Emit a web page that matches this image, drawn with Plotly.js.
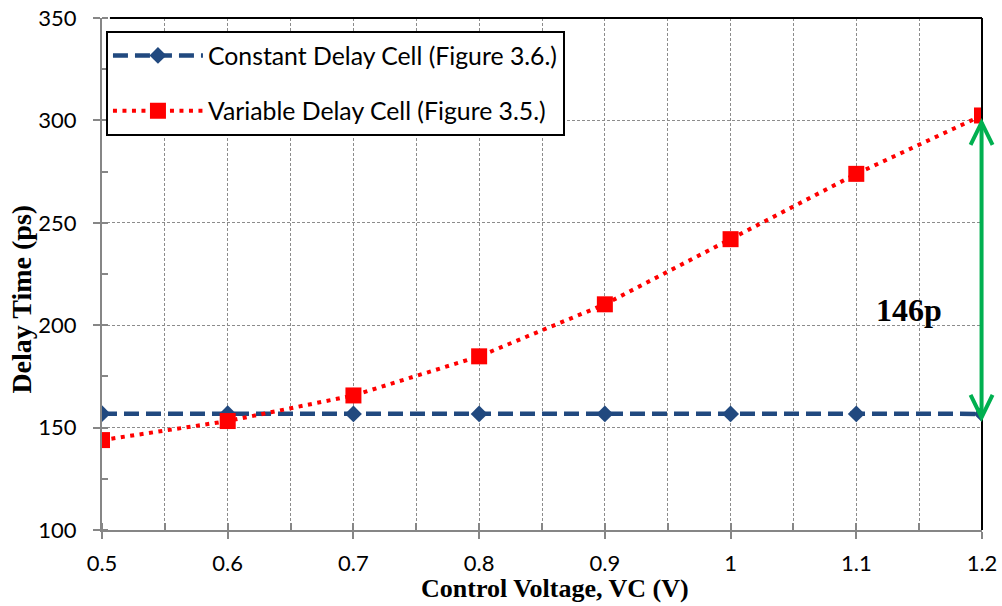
<!DOCTYPE html>
<html>
<head>
<meta charset="utf-8">
<script src="https://cdn.plot.ly/plotly-3.0.1.min.js"></script>
<style>html,body{margin:0;padding:0;background:#fff;}#chart{width:1002px;height:606px;}</style>
</head>
<body>
<div id="chart"></div>
<script>
const voltage = [0.5, 0.6, 0.7, 0.8, 0.9, 1.0, 1.1, 1.2];
const constantDelay = [156.8, 156.8, 156.7, 156.7, 156.7, 156.7, 156.7, 156.7];
const variableDelay = [143.9, 153.2, 165.7, 184.8, 210.2, 242.0, 273.9, 302.4];
const xTickVals = [0.5, 0.6, 0.7, 0.8, 0.9, 1.0, 1.1, 1.2];
const xTickText = ["0.5", "0.6", "0.7", "0.8", "0.9", "1", "1.1", "1.2"];
const yTickVals = [100, 150, 200, 250, 300, 350];
const seriesNames = ["Constant Delay Cell (Figure 3.6.)", "Variable Delay Cell (Figure 3.5.)"];
const xTitle = "Control Voltage, VC (V)";
const yTitle = "Delay Time (ps)";
const arrowLow = 155, arrowHigh = 299;
const diffLabel = "146p";

const axisGray = '#868686';
const gridGray = '#8c8c8c';
const sansFont = 'Lato, "Open Sans", sans-serif';
const serifFont = '"Liberation Serif", "Times New Roman", serif';

const traces = [
  {
    x: voltage, y: constantDelay, name: seriesNames[0], type: 'scatter', mode: 'lines+markers',
    legendgroup: 'a',
    line: {color: '#21497f', width: 4.5, dash: '15px,7px'},
    marker: {symbol: 'diamond', size: 13, color: '#21497f'}
  },
  {
    x: voltage, y: variableDelay, name: seriesNames[1], type: 'scatter', mode: 'lines+markers',
    legendgroup: 'b',
    line: {color: '#ff0000', width: 4, dash: '4px,5.5px'},
    marker: {symbol: 'square', size: 16, color: '#ff0000'}
  }
];

const chevW = 0.0125, chevH = 11;
const ax = 0.9995;
const shapes = [
  {type: 'line', xref: 'paper', yref: 'paper', x0: 0.009, x1: 1, y0: 1, y1: 1, line: {color: '#000', width: 2}},
  {type: 'line', xref: 'paper', yref: 'paper', x0: 1, x1: 1, y0: 0, y1: 1, line: {color: '#000', width: 2}},
  {type: 'line', xref: 'paper', yref: 'y', x0: ax, x1: ax, y0: arrowLow, y1: arrowHigh, line: {color: '#00b050', width: 4}, layer: 'above'},
  {type: 'path', xref: 'paper', yref: 'y', layer: 'above',
   path: 'M' + (ax - chevW) + ',' + (arrowHigh - chevH) + ' L' + ax + ',' + arrowHigh + ' L' + (ax + chevW) + ',' + (arrowHigh - chevH),
   line: {color: '#00b050', width: 4}},
  {type: 'path', xref: 'paper', yref: 'y', layer: 'above',
   path: 'M' + (ax - chevW) + ',' + (arrowLow + chevH) + ' L' + ax + ',' + arrowLow + ' L' + (ax + chevW) + ',' + (arrowLow + chevH),
   line: {color: '#00b050', width: 4}}
];

const layout = {
  width: 1002, height: 606,
  margin: {l: 102, r: 20, t: 18, b: 76},
  paper_bgcolor: '#fff', plot_bgcolor: '#fff',
  showlegend: true,
  legend: {
    x: 0.0045, y: 0.975, xanchor: 'left', yanchor: 'top',
    bgcolor: '#fff', bordercolor: '#000', borderwidth: 2,
    font: {family: sansFont, size: 24.8, color: '#000'},
    tracegroupgap: 20, itemwidth: 90,
    traceorder: 'grouped'
  },
  xaxis: {
    range: [0.5, 1.2], tickvals: xTickVals, ticktext: xTickText,
    showline: true, linecolor: axisGray, linewidth: 2,
    ticks: 'outside', ticklen: 7, tickwidth: 2, tickcolor: axisGray,
    showgrid: true, gridcolor: gridGray, gridwidth: 1, griddash: '3px,2px',
    minor: {dtick: 0.05, tick0: 0.5, ticks: 'inside', ticklen: 7, tickwidth: 2, tickcolor: axisGray,
            showgrid: true, gridcolor: gridGray, gridwidth: 1, griddash: '3px,2px'},
    zeroline: false,
    tickfont: {family: sansFont, size: 22, color: '#000'},
    ticklabelstandoff: 6
  },
  yaxis: {
    range: [100, 350], tickvals: yTickVals,
    showline: true, linecolor: axisGray, linewidth: 2,
    ticks: 'outside', ticklen: 7, tickwidth: 2, tickcolor: axisGray,
    showgrid: true, gridcolor: gridGray, gridwidth: 1, griddash: '3px,2px',
    minor: {dtick: 25, tick0: 100, ticks: 'inside', ticklen: 6, tickwidth: 2, tickcolor: axisGray, showgrid: false},
    zeroline: false,
    tickfont: {family: sansFont, size: 22, color: '#000'},
    ticklabelstandoff: 12
  },
  shapes: shapes,
  annotations: [
    {x: 1.142, y: 207.5, xref: 'x', yref: 'y', text: '<b>' + diffLabel + '</b>', showarrow: false,
     font: {family: serifFont, size: 32, color: '#000'}},
    {x: 0.5145, y: -0.115, xref: 'paper', yref: 'paper', text: '<b>' + xTitle + '</b>', showarrow: false,
     xanchor: 'center', yanchor: 'middle', font: {family: serifFont, size: 26, color: '#000'}},
    {x: -0.0909, y: 0.45, xref: 'paper', yref: 'paper', text: '<b>' + yTitle + '</b>', showarrow: false,
     textangle: -90, xanchor: 'center', yanchor: 'middle', font: {family: serifFont, size: 28, color: '#000'}}
  ]
};

Plotly.newPlot('chart', traces, layout, {displayModeBar: false, staticPlot: true});
</script>
</body>
</html>
